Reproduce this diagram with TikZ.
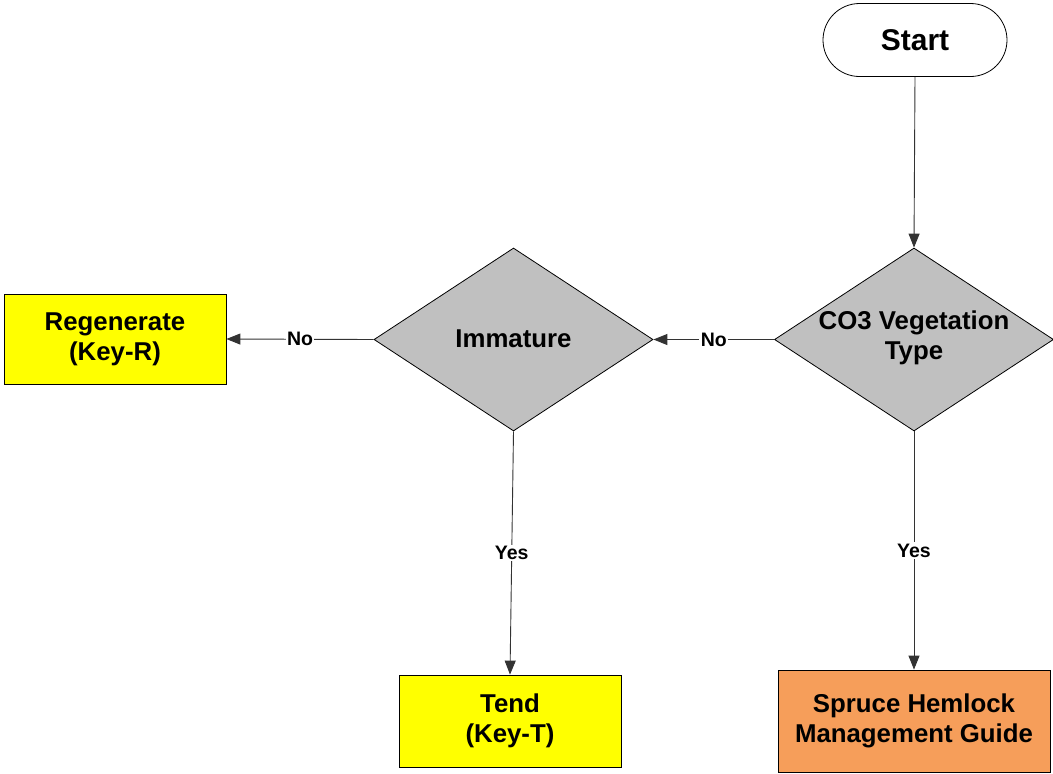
\documentclass[tikz,border=0pt]{standalone}
\usepackage{fontspec}
\setmainfont{Liberation Sans}
\usetikzlibrary{arrows.meta,shapes.geometric}
\definecolor{boxyellow}{RGB}{255,255,0}
\definecolor{diagray}{RGB}{192,192,192}
\definecolor{boxorange}{RGB}{246,158,90}
\begin{document}
\begin{tikzpicture}[x=1pt,y=-1pt,
  mainfont/.style={font=\fontsize{25.8}{30}\selectfont\bfseries, align=center},
  boxnode/.style={draw=black, line width=0.8pt, inner sep=0pt, mainfont},
  diam/.style={diamond, draw=black, line width=0.8pt, fill=diagray, inner sep=0pt, minimum width=279pt, minimum height=183pt},
  conn/.style={draw=black!80, line width=0.9pt, -{Triangle[length=14pt,width=11pt]}},
  lbl/.style={fill=white, inner sep=1.5pt, font=\fontsize{19.5}{22}\selectfont\bfseries}
]
\useasboundingbox (0,0) rectangle (1053,774);
% nodes
\node[boxnode, rounded corners=36.5pt, fill=white, minimum width=184pt, minimum height=73pt,
      font=\fontsize{30}{34}\selectfont\bfseries] (start) at (915,40) {Start};
\node[diam] (co3) at (914,339.5) {};
\node[mainfont] (co3t) at (914,338) {CO3 Vegetation\\Type};
\node[diam] (imm) at (513.5,339.5) {};
\node[mainfont] (immt) at (513.5,339) {Immature};
\node[boxnode, fill=boxyellow, minimum width=222pt, minimum height=90pt] (regen) at (115,339) {Regenerate\\(Key-R)};
\node[boxnode, fill=boxyellow, minimum width=222pt, minimum height=92pt] (tend) at (510,721) {Tend\\(Key-T)};
\node[boxnode, fill=boxorange, minimum width=272pt, minimum height=102pt] (spruce) at (914,721) {Spruce Hemlock\\Management Guide};
% connectors
\draw[conn] (start.south) -- (co3.north);
\draw[conn] (co3.west) -- node[lbl] (no1) {No} (imm.east);
\draw[conn] (imm.west) -- node[lbl] (no2) {No} (regen.east);
\draw[conn] (imm.south) -- node[lbl] (yes1) {Yes} (tend.north);
\draw[conn] (co3.south) -- node[lbl] (yes2) {Yes} (spruce.north);
\end{tikzpicture}
\end{document}
